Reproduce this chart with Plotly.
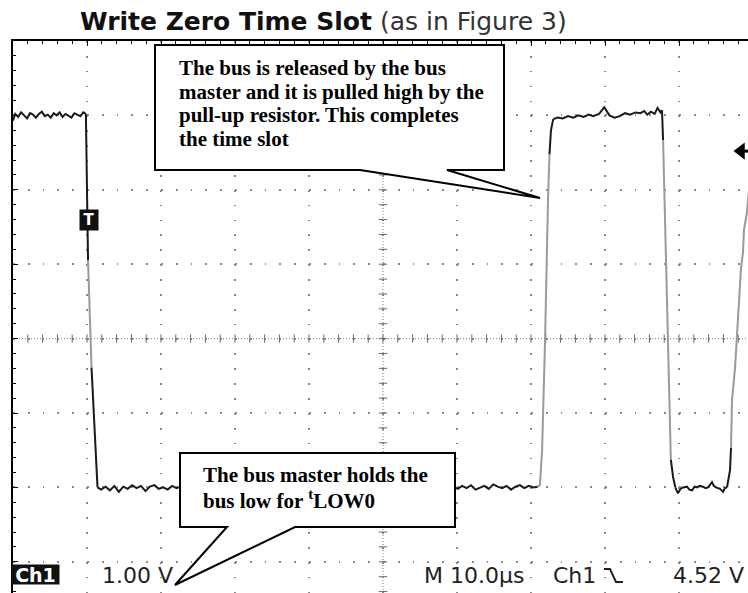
import plotly.graph_objects as go

# screenshot geometry of the scope graticule
W, H = 748, 593
LEFT, TOP = 13, 41
PX_DIV_X, PX_DIV_Y = 74.0, 74.4

# scope settings
us_per_div = 10.0
volts_per_div = 1.0
trigger_level = 4.52
trigger_div = 1      # trigger position, divisions from the left
ground_div = 6       # 0 V line, divisions from the top

t_min = -trigger_div * us_per_div
t_max = t_min + (W - LEFT) / PX_DIV_X * us_per_div
v_max = ground_div * volts_per_div
v_min = v_max - (H - TOP) / PX_DIV_Y * volts_per_div

# waveform (time in us, level in V)
high1_t = [-10.0, -9.7, -9.3, -8.9, -8.5, -8.1, -7.7, -7.3, -6.9, -6.5, -6.1, -5.7, -5.3,
           -4.9, -4.5, -4.1, -3.7, -3.3, -2.9, -2.5, -2.1, -1.7, -1.3, -0.9, -0.5, -0.15]
high1_v = [4.93, 5.02, 4.98, 5.04, 5.00, 4.96, 5.03, 5.01, 4.97, 5.02, 5.05, 4.99, 5.01,
           4.97, 5.03, 5.00, 5.04, 4.98, 5.02, 5.00, 4.97, 5.03, 5.01, 4.99, 5.04, 5.02]
fall1a_t = [-0.15, 0.0, 0.14]
fall1a_v = [5.02, 4.2, 3.05]
fall1b_t = [0.14, 0.61]
fall1b_v = [3.05, 1.61]
fall1c_t = [0.61, 0.95, 1.22, 1.42]
fall1c_v = [1.61, 0.91, 0.23, 0.0]
low1_t = [1.42, 1.9, 2.5, 3.1, 3.7, 4.3, 4.9, 5.5, 6.1, 6.7, 7.3, 7.9, 8.5, 9.1, 9.7,
          10.3, 10.9, 11.5, 12.1, 12.7, 20.0, 30.0, 40.0, 49.5, 50.1, 50.7, 51.3, 51.9,
          52.5, 53.1, 53.7, 54.3, 54.9, 55.5, 56.1, 56.7, 57.3, 57.9, 58.5, 59.1, 59.7,
          60.3, 60.9]
low1_v = [0.0, -0.03, 0.01, -0.04, 0.02, -0.06, 0.01, -0.02, 0.03, -0.01, 0.02, -0.05,
          0.01, 0.03, -0.02, 0.0, -0.03, 0.02, -0.01, 0.01, 0.0, 0.0, 0.0, 0.01, -0.02,
          0.02, -0.01, 0.03, -0.03, 0.0, 0.02, -0.02, 0.04, 0.01, -0.01, 0.02, -0.03,
          0.01, 0.03, -0.01, 0.02, 0.0, 0.01]
rise1a_t = [60.9, 61.2, 61.5, 61.9, 62.3, 62.5]
rise1a_v = [0.01, 0.03, 0.5, 1.98, 3.87, 4.48]
rise1b_t = [62.5, 62.7, 63.0]
rise1b_v = [4.48, 4.8, 4.95]
high2_t = [63.0, 63.6, 64.3, 65.0, 65.7, 66.4, 67.1, 67.8, 68.4, 68.8, 69.2, 69.9, 70.6,
           71.3, 72.0, 72.7, 73.4, 74.1, 74.8, 75.3, 75.7, 76.2, 76.7, 77.1, 77.5, 77.7]
high2_v = [4.95, 4.97, 4.96, 4.99, 4.97, 5.00, 4.98, 5.01, 4.99, 5.00, 5.02, 5.11, 5.00,
           4.97, 4.99, 5.03, 5.01, 5.04, 5.03, 5.06, 5.01, 5.05, 5.02, 5.10, 5.04, 5.07]
fall2a_t = [77.7, 77.85]
fall2a_v = [5.07, 4.67]
fall2b_t = [77.85, 78.9]
fall2b_v = [4.67, 0.37]
fall2c_t = [78.9, 79.2, 79.5]
fall2c_v = [0.37, 0.14, 0.0]
low2_t = [79.5, 79.86, 80.2, 80.54, 81.08, 81.4, 81.76, 82.1, 82.43, 82.8, 83.24, 83.6,
          83.92, 84.2, 84.46, 84.7, 85.0, 85.54, 85.95, 86.2, 86.49]
low2_v = [0.0, -0.08, -0.02, 0.0, 0.01, -0.03, -0.04, 0.01, 0.0, 0.02, 0.01, -0.01,
          0.0, 0.03, 0.07, 0.02, 0.0, -0.02, -0.06, -0.01, 0.0]
rise2a_t = [86.49, 86.89, 87.03]
rise2a_v = [0.0, 0.23, 0.53]
rise2b_t = [87.03, 87.16, 87.57, 87.84, 88.11, 88.38, 88.65, 88.78, 89.19, 89.46, 89.86,
            90.27, 90.68]
rise2b_v = [0.53, 1.17, 1.60, 2.02, 2.52, 2.95, 3.16, 3.46, 3.70, 4.00, 4.53, 4.93, 5.0]

DARK = "#1a1a1a"
GREY = "#9a9a9a"

pieces = [
    (high1_t, high1_v, DARK), (fall1a_t, fall1a_v, DARK), (fall1b_t, fall1b_v, GREY),
    (fall1c_t, fall1c_v, DARK), (low1_t, low1_v, DARK), (rise1a_t, rise1a_v, GREY),
    (rise1b_t, rise1b_v, DARK), (high2_t, high2_v, DARK), (fall2a_t, fall2a_v, DARK),
    (fall2b_t, fall2b_v, GREY), (fall2c_t, fall2c_v, DARK), (low2_t, low2_v, DARK),
    (rise2a_t, rise2a_v, DARK), (rise2b_t, rise2b_v, GREY),
]


def px(x):
    return (x - LEFT) / (W - LEFT)


def py(y):
    return (H - y) / (H - TOP)


def t_at(x):
    return t_min + (x - LEFT) / PX_DIV_X * us_per_div


fig = go.Figure()

# centre cross of the graticule, with its fine ticks
t_mid = t_min + 5 * us_per_div
v_mid = v_max - 4 * volts_per_div
fig.add_shape(type="line", x0=t_min, x1=t_max, y0=v_mid, y1=v_mid, layer="below",
              line=dict(color="#7a7a7a", width=1, dash="1px,2px"))
fig.add_shape(type="line", x0=t_mid, x1=t_mid, y0=v_min, y1=v_max, layer="below",
              line=dict(color="#7a7a7a", width=1, dash="1px,2px"))
fig.add_trace(go.Scatter(
    x=[t_min + k * us_per_div / 5 for k in range(1, 50)], y=[v_mid] * 49, mode="markers",
    marker=dict(symbol="line-ns", size=6, line=dict(color="#6a6a6a", width=1)),
    hoverinfo="skip", showlegend=False))
fig.add_trace(go.Scatter(
    x=[t_mid] * 38, y=[v_max - k * volts_per_div / 5 for k in range(1, 39)], mode="markers",
    marker=dict(symbol="line-ew", size=6, line=dict(color="#6a6a6a", width=1)),
    hoverinfo="skip", showlegend=False))

for t, v, c in pieces:
    fig.add_trace(go.Scatter(x=t, y=v, mode="lines", line=dict(color=c, width=2),
                             hoverinfo="skip", showlegend=False))

# trigger level arrow on the right edge
fig.add_trace(go.Scatter(x=[t_at(741)], y=[trigger_level], mode="markers",
                         marker=dict(symbol="triangle-left", size=15, color="black"),
                         hoverinfo="skip", showlegend=False, cliponaxis=False))
fig.add_shape(type="line", x0=t_at(742), x1=t_max, y0=trigger_level, y1=trigger_level,
              line=dict(color="black", width=3), layer="above")

# callout boxes
box1 = [(155, 45), (504, 45), (504, 170), (447, 170), (540, 198), (360, 170), (155, 170)]
box2 = [(180, 453), (455, 453), (455, 527), (295, 527), (175, 585), (227, 527), (180, 527)]
for pts in (box1, box2):
    path = "M " + " L ".join(f"{px(x):.5f},{py(y):.5f}" for x, y in pts) + " Z"
    fig.add_shape(type="path", path=path, xref="paper", yref="paper", layer="above",
                  fillcolor="white", line=dict(color="black", width=2))

# falling-edge trigger glyph in the readout
edge = [(604, 569), (610, 569), (616, 582), (623, 582)]
fig.add_shape(type="path", xref="paper", yref="paper", layer="above",
              path="M " + " L ".join(f"{px(x):.5f},{py(y):.5f}" for x, y in edge),
              line=dict(color="#222", width=2))

serif = dict(family="Liberation Serif", size=21, color="black")
notes1 = ["The bus is released by the bus", "master and it is pulled high by the",
          "pull-up resistor. This completes", "the time slot"]
for i, line in enumerate(notes1):
    fig.add_annotation(x=px(177), y=py(68 + i * 23.7), xref="paper", yref="paper",
                       text=f"<b>{line}</b>", showarrow=False, xanchor="left",
                       yanchor="middle", font=serif)
notes2 = ["The bus master holds the", "bus low for <sup>t</sup>LOW0"]
for i, line in enumerate(notes2):
    fig.add_annotation(x=px(201), y=py(475 + i * 24), xref="paper", yref="paper",
                       text=f"<b>{line}</b>", showarrow=False, xanchor="left",
                       yanchor="middle", font=serif)

# title
fig.add_annotation(x=px(78), y=py(22), xref="paper", yref="paper", showarrow=False,
                   xanchor="left", yanchor="middle",
                   text="<b>Write Zero Time Slot</b><span style='color:#333'> (as in Figure 3)</span>",
                   font=dict(family="DejaVu Sans", size=25, color="#111"))

# trigger marker and readouts
fig.add_annotation(x=px(88.5), y=py(220.5), xref="paper", yref="paper", showarrow=False,
                   xanchor="center", yanchor="middle",
                   text="<b>T</b>", bgcolor="#111", width=16, height=18,
                   font=dict(family="DejaVu Sans", size=15, color="white"))
fig.add_annotation(x=px(35.5), y=py(574), xref="paper", yref="paper", showarrow=False,
                   xanchor="center", yanchor="middle",
                   text="<b>Ch1</b>", bgcolor="#111", width=45, height=17,
                   font=dict(family="DejaVu Sans", size=19, color="white"))
readout = dict(family="DejaVu Sans", size=22, color="#222")
for x, txt in [(100, f"{volts_per_div:.2f} V"), (422, f"M {us_per_div:.1f}µs"),
               (551, "Ch1"), (671, f"{trigger_level:.2f} V")]:
    fig.add_annotation(x=px(x), y=py(575), xref="paper", yref="paper", showarrow=False,
                       text=txt, xanchor="left", yanchor="middle", font=readout)

fig.update_layout(
    width=W, height=H,
    margin=dict(l=LEFT, r=0, t=TOP, b=0),
    paper_bgcolor="white", plot_bgcolor="white",
    xaxis=dict(range=[t_min, t_max], side="top", showline=True, linecolor="black",
               linewidth=2, ticks="inside", ticklen=5, tickcolor="black", tickwidth=1,
               tick0=0, dtick=us_per_div, showticklabels=False, zeroline=False,
               showgrid=True, gridcolor="#8a8a8a", gridwidth=1.7, griddash="1.7px,13.18px",
               minor=dict(dtick=us_per_div / 5, ticks="inside", ticklen=3,
                          tickcolor="black", showgrid=False),
               fixedrange=True),
    yaxis=dict(range=[v_min, v_max], showline=True, linecolor="black", linewidth=2,
               ticks="inside", ticklen=5, tickcolor="black", tickwidth=1, tick0=0,
               dtick=volts_per_div, showticklabels=False, zeroline=False,
               showgrid=True, gridcolor="#8a8a8a", gridwidth=1.7, griddash="1.7px,13.1px",
               minor=dict(dtick=volts_per_div / 5, ticks="inside", ticklen=3,
                          tickcolor="black", showgrid=False),
               fixedrange=True),
)

# page margin off so the figure sits at the window's corner
fig.write_html("out.html", config={"displayModeBar": False},
               post_script="document.body.style.margin='0px';")
